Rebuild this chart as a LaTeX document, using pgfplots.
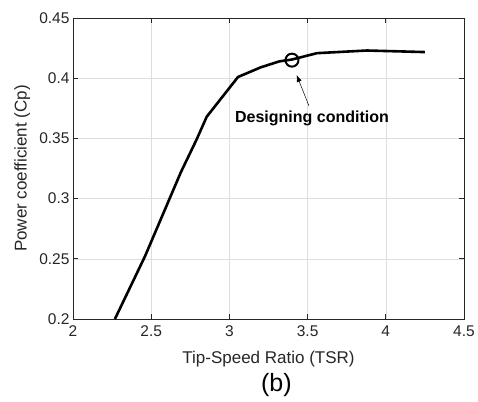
\documentclass[border=0pt]{standalone}
\usepackage{fontspec}
\setmainfont{Liberation Sans}
\usepackage{pgfplots}
\pgfplotsset{compat=1.18}
\usetikzlibrary{arrows.meta}
\definecolor{axgray}{RGB}{38,38,38}
\definecolor{gridgray}{RGB}{222,222,222}

\begin{document}
\begin{tikzpicture}[x=1pt,y=1pt]
  \useasboundingbox (0,0) rectangle (478,401);
  \begin{axis}[
      at={(73pt,82pt)}, anchor=south west,
      scale only axis, width=391pt, height=301pt,
      xmin=2, xmax=4.5, ymin=0.2, ymax=0.45,
      xtick={2,2.5,3,3.5,4,4.5},
      ytick={0.2,0.25,0.3,0.35,0.4,0.45},
      grid=major, major grid style={gridgray, line width=0.6pt},
      axis line style={axgray, line width=0.8pt},
      tick style={axgray, line width=0.8pt},
      tick align=inside, tick pos=both, major tick length=5pt,
      /pgf/number format/assume math mode=true,
      /pgf/number format/fixed, /pgf/number format/precision=2,
      ticklabel style={font=\fontsize{15.5}{16}\selectfont, text=axgray},
      xticklabel style={yshift=-3pt},
      xlabel={Tip-Speed Ratio (TSR)},
      ylabel={Power coefficient (Cp)},
      label style={font=\fontsize{17}{18}\selectfont, text=axgray},
      xlabel style={at={(axis description cs:0.5,-0.133)}, anchor=center},
      ylabel style={at={(axis description cs:-0.130,0.5)}, anchor=center},
      clip=false,
    ]
    \addplot[black, line width=2.6pt, line join=round] coordinates {
      (2.268,0.200) (2.46,0.252) (2.69,0.322) (2.79,0.349) (2.855,0.368)
      (3.055,0.401) (3.20,0.409) (3.32,0.4140) (3.40,0.4155) (3.56,0.4208)
      (3.88,0.4230) (4.25,0.4217)};
    \addplot[only marks, mark=o, mark size=6.5pt, mark options={line width=2pt, black}]
      coordinates {(3.40,0.4150)};
    \draw[black, line width=0.5pt, -{Latex[length=7pt,width=5pt]}]
      (axis cs:3.509,0.3769) -- (axis cs:3.430,0.4027);
    \node[font=\fontsize{16}{18}\selectfont\bfseries, anchor=center]
      at (axis cs:3.528,0.3669) {Designing condition};
    \node[font=\fontsize{25}{28}\selectfont, anchor=center]
      at (axis description cs:0.52,-0.219) {(b)};
  \end{axis}
\end{tikzpicture}
\end{document}
